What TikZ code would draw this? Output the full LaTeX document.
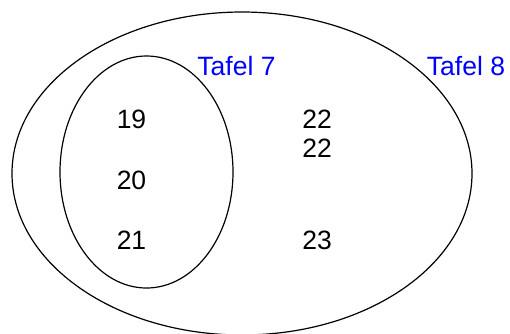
\documentclass[tikz,border=0pt]{standalone}
\usepackage{fontspec}
\setmainfont{Liberation Sans}
\usepackage{tikz}
\usetikzlibrary{positioning}
\usepackage{xcolor}
\definecolor{tafelblue}{HTML}{0000FF}

\tikzset{
  num/.style={font=\fontsize{26.5}{30}\selectfont, inner sep=0pt},
  tafel/.style={font=\fontsize{26.5}{30}\selectfont, text=tafelblue, inner sep=0pt},
  menge/.style={line width=1.2pt, draw=black}
}

\begin{document}
\begin{tikzpicture}[x=1pt, y=-1pt]
        \useasboundingbox (0,0) rectangle (510,333);
        
        % Mengen
        \draw[menge] (242, 173.5) ellipse (230 and 161.5);
        \draw[menge] (146.5, 172) ellipse (86.5 and 116);
        
        % Beschriftungen
        \node[tafel] (t7) at (236.5, 66) {Tafel 7};
        \node[tafel] (t8) at (466, 66) {Tafel 8};
        
        % Elemente
        \node[num] (n19) at (131.5, 119) {19};
        \node[num] (n20) at (131.5, 180) {20};
        \node[num] (n21) at (131.5, 240) {21};
        \node[num] (n22a) at (317, 119) {22};
        \node[num] (n22b) at (317, 148) {22};
        \node[num] (n23) at (317, 240) {23};
    \end{tikzpicture}
\end{document}
